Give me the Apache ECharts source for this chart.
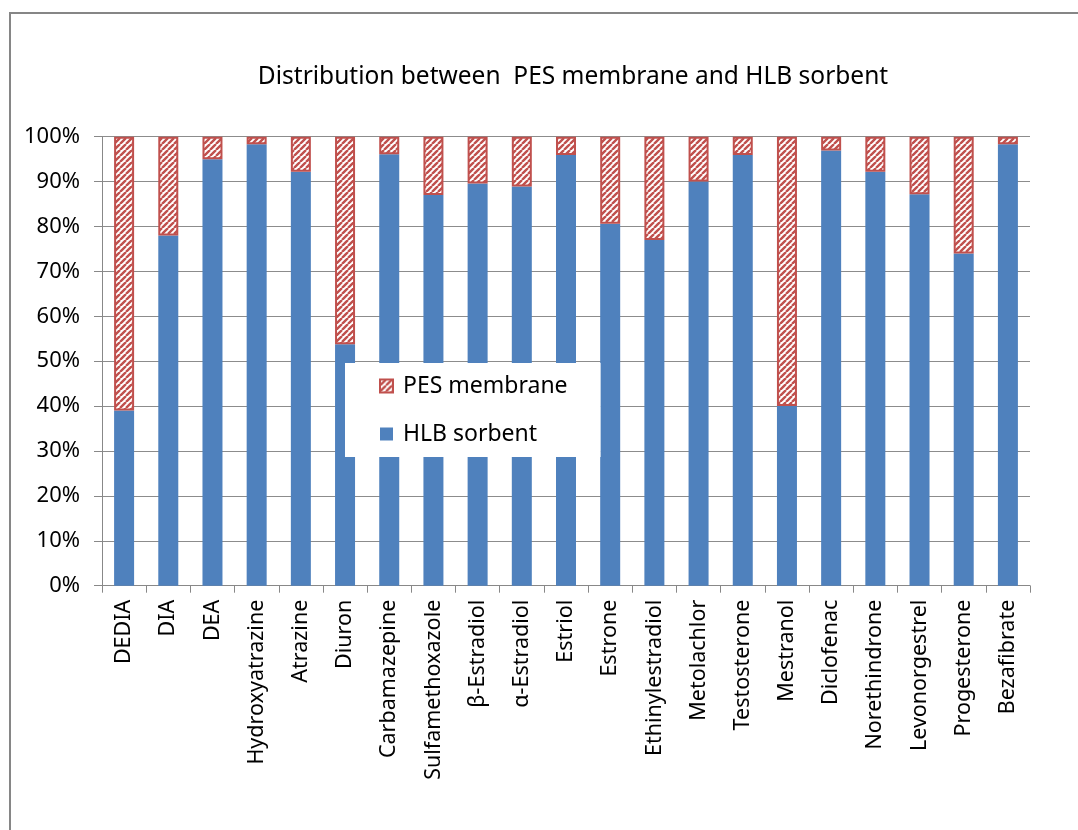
<!DOCTYPE html>
<html>
<head>
<meta charset="utf-8">
<script src="https://cdn.jsdelivr.net/npm/echarts@6/dist/echarts.min.js"></script>
<style>
  html, body { margin: 0; padding: 0; background: #fff; }
  #chart { width: 1078px; height: 830px; }
</style>
</head>
<body>
<div id="chart"></div>
<script>
// Compounds on the x axis
const compounds = [
  'DEDIA', 'DIA', 'DEA', 'Hydroxyatrazine', 'Atrazine', 'Diuron', 'Carbamazepine',
  'Sulfamethoxazole', 'β-Estradiol', 'α-Estradiol', 'Estriol', 'Estrone',
  'Ethinylestradiol', 'Metolachlor', 'Testosterone', 'Mestranol', 'Diclofenac',
  'Norethindrone', 'Levonorgestrel', 'Progesterone', 'Bezafibrate'
];

// Share (%) retained on the HLB sorbent
const hlbSorbent = [
  39, 78, 95, 98.3, 92.2, 53.8, 96.1,
  87, 89.6, 88.9, 95.9, 80.6,
  77, 90, 95.9, 40, 96.9,
  92.2, 87.2, 74, 98.3
];

// Share (%) retained on the PES membrane (remainder of 100%)
const pesMembrane = [
  61, 22, 5, 1.7, 7.8, 46.2, 3.9,
  13, 10.4, 11.1, 4.1, 19.4,
  23, 10, 4.1, 60, 3.1,
  7.8, 12.8, 26, 1.7
];

const yTicks = { min: 0, max: 100, step: 10 };

// Upward diagonal hatch used for the membrane fraction
function makeHatch() {
  const c = document.createElement('canvas');
  const s = 6;
  c.width = s; c.height = s;
  const g = c.getContext('2d');
  g.fillStyle = '#ffffff';
  g.fillRect(0, 0, s, s);
  g.strokeStyle = '#C0504D';
  g.lineWidth = 2.4;
  g.beginPath();
  for (let k = -s; k <= 2 * s; k += s) {
    g.moveTo(k, s);
    g.lineTo(k + s, 0);
  }
  g.stroke();
  return c;
}
const hatch = { image: makeHatch(), repeat: 'repeat' };

const fontFamily = 'Noto Sans, Open Sans, sans-serif';

const chart = echarts.init(document.getElementById('chart'), null, { renderer: 'canvas' });
chart.setOption({
  animation: false,
  backgroundColor: '#ffffff',
  title: {
    text: 'Distribution between  PES membrane and HLB sorbent',
    left: 568,
    top: 60,
    textAlign: 'center',
    textStyle: { fontFamily, fontSize: 24.5, fontWeight: 'normal', color: '#000' }
  },
  graphic: [{
    type: 'rect',
    shape: { x: 10, y: 13, width: 1100, height: 850 },
    style: { fill: 'none', stroke: '#868686', lineWidth: 2 },
    silent: true,
    z: -1
  }],
  legend: {
    orient: 'vertical',
    left: 345,
    top: 363,
    backgroundColor: '#ffffff',
    padding: [11, 33, 11, 34],
    itemGap: 24,
    itemWidth: 13,
    itemHeight: 13,
    textStyle: { fontFamily, fontSize: 23, lineHeight: 24, color: '#000', padding: [0, 0, 0, 5] },
    data: [
      { name: 'PES membrane', icon: 'rect' },
      { name: 'HLB sorbent', icon: 'rect' }
    ],
    z: 10
  },
  grid: { left: 102, right: 48, top: 136.7, bottom: 244.3, containLabel: false },
  xAxis: {
    type: 'category',
    data: compounds,
    boundaryGap: true,
    axisLine: { lineStyle: { color: '#888', width: 1 } },
    axisTick: { show: true, alignWithLabel: false, length: 7, lineStyle: { color: '#888' } },
    axisLabel: {
      rotate: 90,
      interval: 0,
      margin: 14,
      fontFamily,
      fontSize: 21.5,
      color: '#000'
    }
  },
  yAxis: {
    type: 'value',
    min: yTicks.min,
    max: yTicks.max,
    interval: yTicks.step,
    axisLine: { show: true, lineStyle: { color: '#888', width: 1 } },
    axisTick: { show: true, length: 8, lineStyle: { color: '#888' } },
    axisLabel: {
      formatter: '{value}%',
      margin: 22,
      fontFamily,
      fontSize: 22,
      color: '#000'
    },
    splitLine: { lineStyle: { color: '#8c8c8c', width: 1 } }
  },
  series: [
    {
      name: 'HLB sorbent',
      type: 'bar',
      stack: 'total',
      barWidth: 20,
      data: hlbSorbent,
      itemStyle: { color: '#4F81BD' }
    },
    {
      name: 'PES membrane',
      type: 'bar',
      stack: 'total',
      barWidth: 20,
      data: pesMembrane,
      itemStyle: { color: hatch, borderColor: '#C0504D', borderWidth: 2 }
    }
  ]
});
</script>
</body>
</html>
